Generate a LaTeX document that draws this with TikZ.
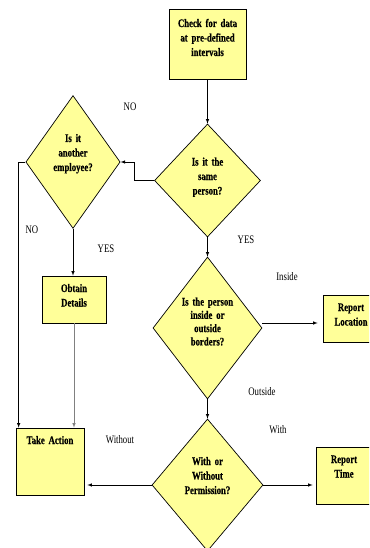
\documentclass[tikz,border=0pt]{standalone}
\usepackage{fontspec}
\setmainfont[FakeStretch=0.76,BoldFeatures={FakeBold=0.5}]{Liberation Serif}
\usetikzlibrary{shapes.geometric,arrows}

\definecolor{chartyellow}{HTML}{FFFF99}
\tikzset{
  box/.style={draw,fill=chartyellow,line width=0.7pt,align=center,
    font=\fontsize{11.5}{14.5}\selectfont\bfseries,
    inner xsep=2pt,inner ysep=7pt,text height=9pt},
  decision/.style={diamond,draw,fill=chartyellow,line width=0.7pt,align=center,
    font=\fontsize{11.5}{14.5}\selectfont\bfseries,
    inner sep=0pt,text width=56pt,text height=7pt},
  flow/.style={-latex,line width=0.6pt},
  lbl/.style={font=\fontsize{11.5}{12}\selectfont}
}

\begin{document}
\begin{tikzpicture}[x=1pt,y=-1pt]
  \clip (0,0) rectangle (369,548);
  % boxes
  \node[box,text width=73pt,text height=11pt,text depth=45pt] (chk) at (207.5,44) {Check for data\\at pre-defined\\intervals};
  \node[box,text width=60pt,text depth=24pt] (obt) at (74,299.5) {Obtain\\Details};
  \node[box,text width=64pt,text depth=44pt] (act) at (50,461.5) {Take Action};
  \node[box,text width=52pt,text depth=24pt] (loc) at (351,318.5) {Report\\Location};
  \node[box,text width=52pt,text depth=34pt] (tim) at (344,475.5) {Report\\Time};
  % decisions
  \node[decision,minimum width=106pt,minimum height=113pt,shape aspect=0.94,text depth=37pt] (same) at (207.5,180.5) {Is it the\\same\\person?};
  \node[decision,minimum width=94pt,minimum height=132pt,shape aspect=0.71,text depth=47pt] (other) at (73,162) {Is it\\another\\employee?};
  \node[decision,minimum width=109pt,minimum height=142pt,shape aspect=0.77,text depth=52pt,
    font=\fontsize{11.5}{13.3}\selectfont\bfseries] (pos) at (207.5,328) {Is the person\\inside or\\outside\\borders?};
  \node[decision,minimum width=111pt,minimum height=132pt,shape aspect=0.84,text depth=47pt] (perm) at (207.5,485) {With or\\Without\\Permission?};
  % labels
  \node[lbl] (noa) at (130,107) {NO};
  \node[lbl] (nob) at (32,230) {NO};
  \node[lbl] (yesa) at (106,249) {YES};
  \node[lbl] (yesb) at (246,240) {YES};
  \node[lbl] (ins) at (287,277) {Inside};
  \node[lbl] (outs) at (262,392) {Outside};
  \node[lbl] (with) at (278,430) {With};
  \node[lbl] (wout) at (120,440) {Without};
  % connectors
  \draw[flow] (chk) -- (same);
  \draw[flow] (same.west) -- ++(-20,0) |- (other.east);
  \draw[flow] (other.west) -| ([xshift=3pt]act.north west);
  \draw[flow] (other.south) -- (other.south |- obt.north);
  \draw[flow,draw=gray] (obt.south) -- (obt.south |- act.north);
  \draw[flow] (same) -- (pos);
  \draw[flow,shorten >=5pt] ([yshift=5pt]pos.east) -- ([yshift=5pt]pos.east -| loc.west);
  \draw[flow] (pos) -- (perm);
  \draw[flow,shorten >=3pt] (perm.west) -- (perm.west -| act.east);
  \draw[flow,shorten >=3pt] (perm.east) -- (perm.east -| tim.west);
\end{tikzpicture}
\end{document}
